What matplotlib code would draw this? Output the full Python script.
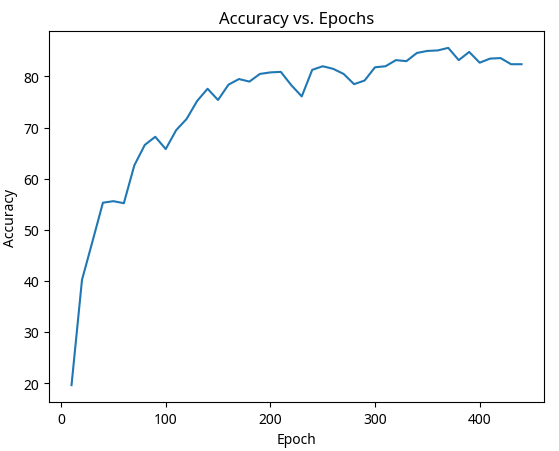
import matplotlib
matplotlib.use('Agg')
import matplotlib.pyplot as plt

epochs = list(range(10, 450, 10))
accuracy = [19.6, 40.2, 47.7, 55.3, 55.6, 55.2, 62.6, 66.6, 68.2, 65.8,
            69.5, 71.7, 75.2, 77.6, 75.4, 78.4, 79.5, 79.0, 80.5, 80.8,
            80.9, 78.3, 76.1, 81.3, 82.0, 81.5, 80.5, 78.5, 79.2, 81.8,
            82.0, 83.2, 83.0, 84.6, 85.0, 85.1, 85.6, 83.2, 84.8, 82.7,
            83.5, 83.6, 82.4, 82.4]

plt.rcParams['font.family'] = ['Noto Sans', 'DejaVu Sans']
fig = plt.figure(figsize=(5.59, 4.52), dpi=100)
ax = fig.add_axes([0.0877, 0.1084, 0.8855, 0.8208])
ax.plot(epochs, accuracy, color='#1f77b4')
ax.set_xlabel("Epoch")
ax.set_ylabel("Accuracy")
ax.set_title("Accuracy vs. Epochs")
fig.savefig('out.png')
